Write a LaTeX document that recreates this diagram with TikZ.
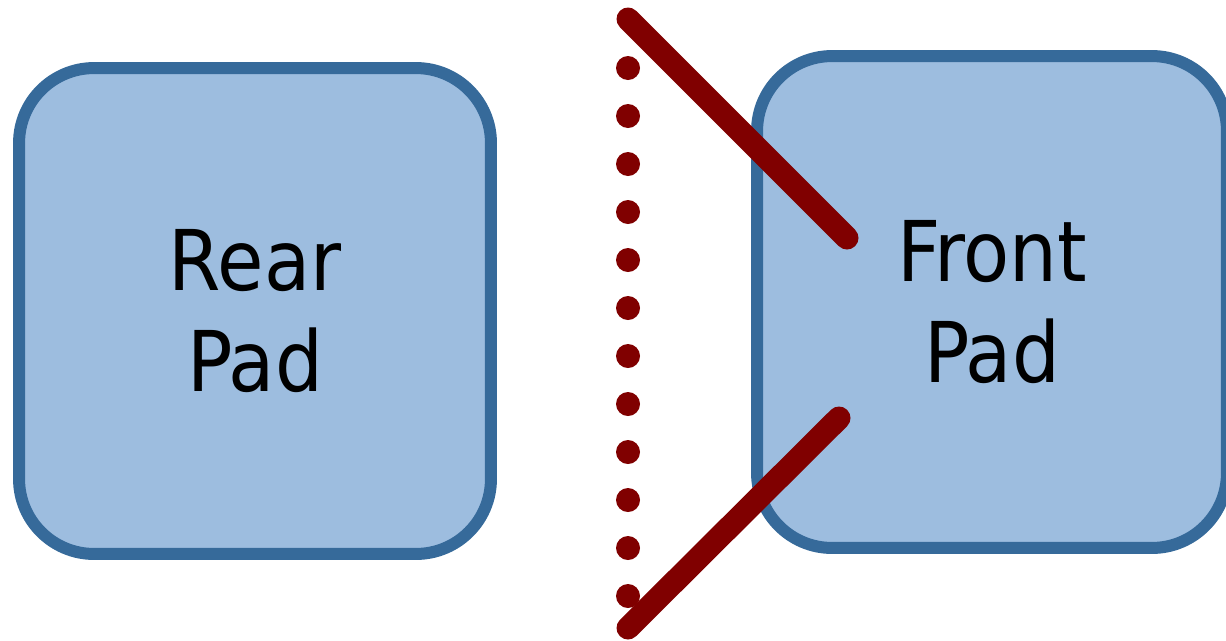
\documentclass[tikz,border=0pt]{standalone}
\usepackage{fontspec}
\setmainfont{DejaVu Sans Condensed}
\definecolor{padfill}{HTML}{9DBDDF}
\definecolor{padline}{HTML}{366A9A}
\definecolor{cutred}{HTML}{800000}
\begin{document}
\begin{tikzpicture}[line cap=round,line join=round,x=0.02cm,y=-0.02cm,
    pad/.style={draw=padline,fill=padfill,line width=0.24cm,rounded corners=1.5cm,
      align=center,inner sep=0pt,font=\fontsize{47.7}{57.5}\selectfont},
    cut/.style={draw=cutred,line width=0.46cm}]
	\useasboundingbox (0,0) rectangle (1226,640);
	\clip (0,0) rectangle (1226,640);
	% the two pads
	\node[pad,minimum width=9.44cm,minimum height=9.72cm] (rear) at (255,311) {Rear\\Pad};
	\node[pad,minimum width=9.40cm,minimum height=9.84cm] (front) at (992,302) {Front\\Pad};
	% dotted divider
	\foreach \i in {0,...,11}
		\fill[cutred] (628,68+48*\i) circle (0.24cm);
	% slanted cut lines
	\coordinate (cutA) at (628,19);
	\coordinate (cutB) at (847,238);
	\coordinate (cutC) at (839,418);
	\coordinate (cutD) at (628,628);
	\draw[cut] (cutA) -- (cutB);
	\draw[cut] (cutC) -- (cutD);
\end{tikzpicture}
\end{document}
